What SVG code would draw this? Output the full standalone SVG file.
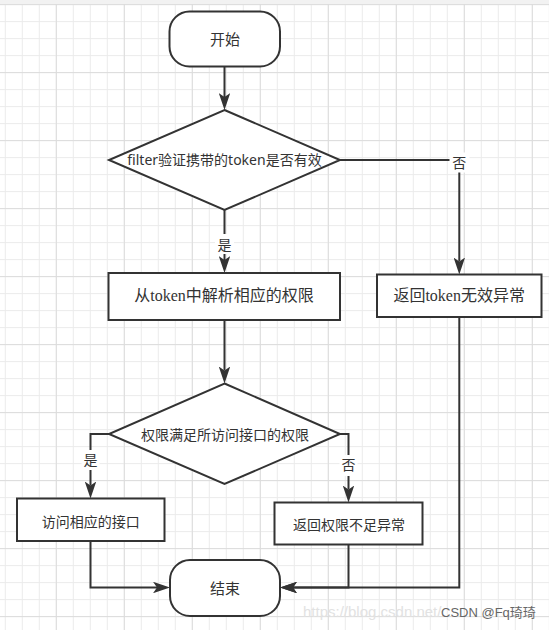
<svg xmlns="http://www.w3.org/2000/svg" width="549" height="630" viewBox="0 0 549 630">
<defs>
<pattern id="gmin" x="4.8" y="4.1" width="17" height="17" patternUnits="userSpaceOnUse">
<rect x="0" y="0" width="1" height="17" fill="#ebebeb"/>
<rect x="0" y="0" width="17" height="1" fill="#ebebeb"/>
</pattern>
<pattern id="gmaj" x="55.8" y="4.1" width="68" height="68" patternUnits="userSpaceOnUse">
<rect x="0" y="0" width="1" height="68" fill="#dcdcdc"/>
<rect x="0" y="0" width="68" height="1" fill="#dcdcdc"/>
</pattern>
<marker id="arr" viewBox="0 0 17 11.5" refX="4" refY="5.75" markerWidth="17" markerHeight="11.5" markerUnits="userSpaceOnUse" orient="auto">
<path d="M0,0 L17,5.75 L0,11.5 L4,5.75 Z" fill="#333"/>
</marker>
</defs>
<style>
.shape{fill:#fff;stroke:#333;stroke-width:2}
.edge{fill:none;stroke:#333;stroke-width:2}
.t{font-family:"Noto Sans","Noto Sans CJK SC",sans-serif;fill:#333;text-anchor:middle}
.ts{font-family:"Liberation Serif","Noto Sans CJK SC",serif;fill:#333;text-anchor:middle;font-size:16px}
.lbl{font-family:"Noto Sans CJK SC",sans-serif;fill:#333;text-anchor:middle;font-size:14px}
.lblbg{fill:#fff}
</style>
<rect width="549" height="630" fill="#fff"/>
<rect width="549" height="630" fill="url(#gmin)"/>
<rect width="549" height="630" fill="url(#gmaj)"/>
<rect width="549" height="4" fill="#f2f2f2"/>

<g id="connectors">
<path class="edge" d="M224.5 67 V97" marker-end="url(#arr)"/>
<path class="edge" d="M340 160 H459.3 V261.5" marker-end="url(#arr)"/>
<path class="edge" d="M224.5 210 V260" marker-end="url(#arr)"/>
<path class="edge" d="M224.5 320 V370.5" marker-end="url(#arr)"/>
<path class="edge" d="M109 434 H90.5 V485.5" marker-end="url(#arr)"/>
<path class="edge" d="M340 434 H348.5 V489.5" marker-end="url(#arr)"/>
<path class="edge" d="M90.5 541 V587.5 H157" marker-end="url(#arr)"/>
<path class="edge" d="M348.5 544.5 V587.5 H293" marker-end="url(#arr)"/>
<path class="edge" d="M459.3 317 V587.5 H293" marker-end="url(#arr)"/>
<rect class="lblbg" x="449.5" y="152.5" width="20" height="20"/>
<text class="lbl" x="459.3" y="167.5">否</text>
<rect class="lblbg" x="215" y="234" width="19" height="20"/>
<text class="lbl" x="224.5" y="250">是</text>
<rect class="lblbg" x="81.5" y="450" width="18" height="20"/>
<text class="lbl" x="90.5" y="465">是</text>
<rect class="lblbg" x="339.5" y="455" width="18" height="21"/>
<text class="lbl" x="348.5" y="470">否</text>
</g>

<g id="start">
<rect class="shape" x="169.5" y="11.5" width="110.5" height="55" rx="20" ry="20"/>
<text class="t" x="225" y="45" font-size="15">开始</text>
</g>
<g id="check-token">
<polygon class="shape" points="224.5,110 340,160 224.5,210 109,160"/>
<text class="t" x="224.5" y="165" font-size="14">filter验证携带的token是否有效</text>
</g>
<g id="parse-permission">
<rect class="shape" x="108.5" y="273" width="231.5" height="47"/>
<text class="ts" x="224" y="301">从token中解析相应的权限</text>
</g>
<g id="token-invalid">
<rect class="shape" x="377" y="274.5" width="164.5" height="42.5"/>
<text class="ts" x="459.2" y="301">返回token无效异常</text>
</g>
<g id="check-permission">
<polygon class="shape" points="224.5,383.5 340,434 224.5,484 109,434"/>
<text class="t" x="225" y="440" font-size="14">权限满足所访问接口的权限</text>
</g>
<g id="access-api">
<rect class="shape" x="17" y="498.5" width="147.5" height="42.5"/>
<text class="t" x="90.8" y="527" font-size="14">访问相应的接口</text>
</g>
<g id="permission-denied">
<rect class="shape" x="274.5" y="502.5" width="148" height="42"/>
<text class="t" x="349" y="530" font-size="14">返回权限不足异常</text>
</g>
<g id="end">
<rect class="shape" x="170" y="560" width="110" height="56" rx="20" ry="20"/>
<text class="t" x="225" y="594" font-size="15">结束</text>
</g>

<g id="watermark">
<text x="303" y="617" font-family="Liberation Sans, sans-serif" font-size="15" fill="#e2e2e2">https://blog.csdn.net/</text>
<text x="441" y="617" font-family="Liberation Sans, Noto Sans CJK SC, sans-serif" font-size="13" fill="#666">CSDN @Fq琦琦</text>
</g>
</svg>
